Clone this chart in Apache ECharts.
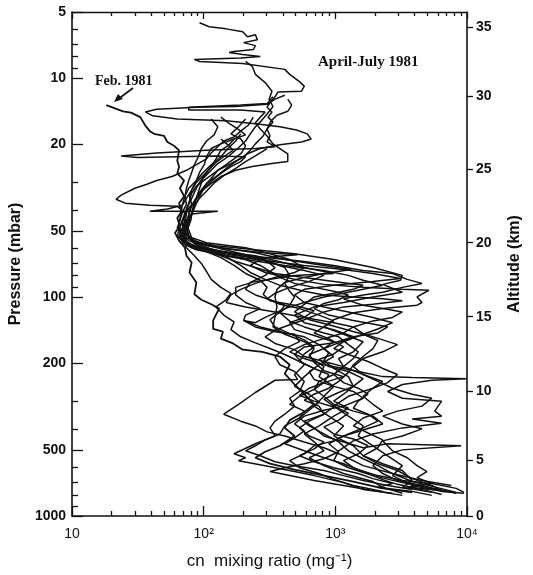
<!DOCTYPE html>
<html>
<head>
<meta charset="utf-8">
<title>CN mixing ratio profiles</title>
<script src="https://cdn.jsdelivr.net/npm/echarts@6/dist/echarts.min.js"></script>
<style>
  html, body { margin: 0; padding: 0; background: #fff; }
  #chart { width: 533px; height: 575px; }
</style>
</head>
<body>
<div id="chart"></div>
<script>
// axis ticks
const pressureLabels = [5, 10, 20, 50, 100, 200, 500, 1000];
const pressureMinor = [6, 7, 8, 9, 30, 40, 60, 70, 80, 90, 300, 400, 600, 700, 800, 900];
const cnMajor = [10, 100, 1000, 10000];
const cnMinor = [20, 30, 40, 50, 60, 70, 80, 90, 200, 300, 400, 500, 600, 700, 800, 900,
  2000, 3000, 4000, 5000, 6000, 7000, 8000, 9000];
const cnLabelText = ['10', '10²', '10³', '10⁴'];
const altitudeKm = [0, 5, 10, 15, 20, 25, 30, 35];
const altitudePressure = [1000, 555, 270, 123, 56.5, 26, 12.1, 5.85];

// profiles: [cn mixing ratio, pressure mbar]
const feb1981 = [[18.2,13.3],[24.4,14.2],[28,14.4],[33,15.1],[36,16.5],[39,17.5],[42,18],[50,18.4],[53,19.6],[59.5,20.4],[65,21.4],[63,23.9],[65,25.4],[63,27.3],[71,29.4],[66,31.9],[71,34.7],[65,37.3],[68,40.6],[63,43.6],[66,47.4],[60.5,51],[65,55.3],[72,59.6],[74,64.8],[81,69.6],[78,77.3],[88,85.8],[85,97.2],[96,103],[114,108],[131,113],[118,128],[118,140],[140,144],[135,155],[167,163],[198,174],[278,178],[379,187],[450,204],[413,224],[490,251],[581,278],[690,309],[581,335],[450,365],[413,396],[490,431],[379,478],[293,509],[247,542],[319,577],[490,614],[819,654],[1370,696],[2291,748],[3832,780]];

const flight01 = [[93,5.6],[110,5.84],[148,5.97],[198,6.16],[215,6.48],[247,6.35],[256,6.69],[201,6.9],[247,7.12],[238,7.42],[170,7.58],[156,7.66],[198,7.82],[269,7.98],[260,8.07],[191,8.1],[85,8.24],[93,8.41],[198,8.59],[413,9.14],[450,9.63],[534,10.4],[581,10.9],[553,11.5],[366,11.6],[348,12.2],[325,12.8],[303,13.6],[330,14.3],[308,15.1],[336,15.9],[303,17.1],[283,18.4],[247,20],[226,21.4],[201,22.9],[161,24.6],[128,26.4],[105,28.8],[88,31.2],[81,33.6],[77,37.3],[74,41.4],[72,45.9],[68,49.4],[74,53.7],[105,58.3],[175,60.9],[293,62.8],[516,64.1],[348,65.4],[269,67.5],[226,71.8],[293,77.3],[490,83.1],[819,87.6],[1626,90.4],[3228,92.3],[5130,93.2],[4175,100],[4549,106],[4175,109],[2291,113],[1370,118],[972,127],[819,137],[1154,148],[1626,160],[1370,178],[1059,191],[1154,208],[1626,226],[2291,243],[1930,261],[1257,284],[972,315],[1257,350],[1626,388],[1492,431],[1930,478],[2496,531],[3228,589],[2719,654],[3832,725],[6410,772],[9500,788]];

const flight02 = [[208,8.41],[234,8.86],[247,9.63],[293,10.5],[330,11.5],[314,12.5],[336,13.5],[303,14.6],[274,15.7],[247,16.7],[226,18],[208,19.4],[181,21],[153,22.9],[128,24.6],[114,26.4],[99,28.8],[93,31.9],[88,35.4],[84,39.3],[78,43.6],[74,47.4],[77,52.6],[88,56.5],[135,59.6],[247,62.8],[413,67.5],[819,71.8],[1324,75],[819,78.1],[581,81.4],[413,85.8],[360,92.3],[348,100],[360,111],[348,124],[336,137],[413,148],[581,160],[690,172],[633,187],[819,208],[752,231],[972,256],[819,284],[690,315],[892,350],[1154,388],[972,431],[1370,478],[1626,531],[2291,577],[3228,620],[3832,689],[3228,740],[5400,780]];

const flight03 = [[413,12.0],[348,12.5],[303,13.2],[175,13.5],[88,13.6],[44,13.9],[36,14.3],[41,14.9],[63,15.4],[148,15.7],[247,16.2],[379,16.7],[507,17.3],[612,18],[655,19],[553,19.6],[379,20.2],[269,21],[215,22.2],[175,24.1],[148,25.9],[124,28.2],[105,30.3],[96,33.6],[88,37.3],[82,41.4],[77,45.9],[72,51],[81,55.3],[124,58.3],[247,60.9],[490,63.5],[972,67.5],[1930,73.4],[3228,79.7],[3120,83.9],[2291,87.6],[3228,95.2],[1930,100],[1154,106],[690,111],[490,121],[581,131],[972,141],[1370,152],[972,162],[581,169],[490,183],[581,204],[490,226],[516,238],[348,240],[247,273],[184,309],[142,343],[191,369],[247,388],[303,413],[413,431],[581,459],[819,488],[1154,531],[1626,589],[2719,640],[4549,689],[7609,725]];

const flight04 = [[435,12.5],[466,13.3],[435,14.2],[360,14.8],[325,15.7],[303,17.1],[319,18.4],[303,19.6],[348,20.6],[247,21],[105,21.4],[44,22],[23.6,22.7],[31.5,23.1],[63,22.9],[124,22.7],[208,22.9],[191,24.1],[161,25.4],[135,27.3],[114,29.7],[101,31.9],[91,34.7],[81,38.1],[77,42.3],[74,46.4],[69,50.5],[72,55.3],[81,59.6],[114,62.8],[208,67.5],[413,71.8],[819,75.7],[1257,79.7],[1626,83.9],[2291,88.5],[1370,94.2],[819,100],[581,106],[413,113],[293,124],[247,131],[201,128],[269,137],[413,146],[581,152],[752,165],[892,180],[819,195],[972,212],[1257,231],[1370,256],[1154,278],[972,299],[1257,322],[972,350],[752,388],[581,422],[690,459],[819,504],[633,542],[819,589],[1154,640],[1930,696],[2291,740],[3228,788]];

const flight05 = [[336,12.2],[303,13.1],[191,13.3],[77,13.6],[77,14.0],[191,14.0],[293,14.3],[269,15.1],[247,16.0],[269,17.1],[303,18.4],[336,20],[379,21],[435,22.2],[435,24.1],[330,24.6],[234,25.4],[175,26.4],[135,28.2],[114,30.3],[96,32.9],[85,36.5],[82,40.1],[80,44.5],[76,48.4],[81,53.7],[105,56.5],[208,59.6],[319,63.5],[450,67.5],[581,73.4],[490,77.3],[348,81.4],[247,86.7],[191,92.3],[161,97.9],[148,106],[208,111],[348,117],[581,124],[972,131],[1370,137],[1154,146],[819,155],[581,165],[450,178],[581,191],[819,204],[1154,212],[1626,221],[2291,231],[3832,233],[9900,236],[5400,240],[3228,251],[2496,270],[3228,290],[6410,299],[5690,332],[6410,350],[3832,361],[6410,377],[3228,396],[1930,422],[1370,454],[1059,504],[972,559],[1257,602],[1930,654],[3228,704],[5400,748],[8290,788]];

const flight06 = [[135,15.1],[153,16.0],[181,17.1],[208,18.2],[170,19],[135,20],[114,21],[105,22.9],[101,24.9],[93,27],[88,29.4],[82,31.9],[78,34.7],[81,37.7],[74,41],[72,44.5],[69,48.4],[65,52.6],[72,56.5],[96,59.6],[161,62.8],[247,64.8],[348,68.2],[490,71.8],[690,75],[972,78.1],[490,79.7],[247,84.9],[175,90.4],[175,97.9],[208,106],[269,113],[208,121],[201,128],[247,137],[348,144],[490,148],[534,160],[413,172],[348,187],[379,204],[490,219],[581,243],[534,270],[450,290],[490,315],[413,343],[348,369],[319,396],[348,431],[247,468],[170,520],[208,542],[184,559],[293,589],[490,627],[690,654],[1154,704],[1626,756],[2719,788]];

const flight07 = [[238,15.1],[219,16.4],[191,17.5],[170,18.6],[142,19.4],[128,20.6],[114,22],[105,23.4],[88,24.9],[74,26.4],[57.5,28.2],[44,29.4],[37,30.6],[30,31.9],[23.6,34.3],[21.6,35.8],[25.3,37.3],[39,38.1],[63,38.5],[72,41.4],[68,45.4],[65,49.4],[63,52.6],[72,57.1],[96,60.9],[135,64.8],[175,68.9],[247,73.4],[348,78.1],[581,81.4],[972,84.9],[1626,88.5],[1370,92.3],[972,96.2],[690,100],[581,108],[490,117],[633,127],[892,134],[1257,142],[1626,148],[2103,158],[1930,172],[1626,187],[1370,204],[1257,221],[1059,243],[892,261],[690,278],[581,296],[752,315],[819,343],[581,369],[690,396],[819,431],[1154,459],[1626,488],[2496,468],[9030,478],[3228,499],[2291,531],[1930,589],[2291,640],[2963,689],[4549,725],[6984,772]];

const flight08 = [[170,19],[156,20.2],[135,21.4],[124,23.4],[114,25.4],[101,27.6],[88,30],[81,32.5],[74,35.4],[69,38.1],[53,39.7],[39,40.6],[74,40.6],[128,40.6],[81,41.8],[74,44.5],[71,48.4],[67,52.6],[69,57.1],[88,60.9],[148,64.8],[293,68.2],[581,71.8],[1154,75],[1930,78.1],[3120,82.3],[1930,84.9],[972,88.5],[581,92.3],[490,97.9],[581,106],[819,111],[1257,117],[1930,124],[2719,131],[2103,140],[1626,148],[1154,160],[972,172],[1257,183],[1771,197],[2291,212],[2963,226],[2496,246],[1930,261],[1626,284],[1930,309],[2291,332],[1626,357],[1370,388],[1771,418],[2291,449],[2103,488],[1626,531],[2103,577],[2963,620],[3832,675],[5400,725],[6410,764]];

const flight09 = [[303,21],[247,22.7],[208,24.1],[175,25.9],[142,27.9],[119,30.3],[105,32.9],[93,35.4],[85,38.5],[81,41.8],[77,45.4],[74,49.4],[78,53.7],[85,57.1],[105,60.9],[148,64.8],[208,67.5],[269,71.8],[319,76.5],[379,81.4],[490,86.7],[690,90.4],[972,94.2],[1257,97.9],[1059,103],[819,107],[690,113],[892,121],[1370,128],[1930,133],[2496,137],[2103,146],[1370,152],[1059,162],[819,172],[972,187],[752,204],[633,219],[690,238],[972,256],[1370,270],[1626,290],[1154,315],[819,329],[581,350],[490,380],[581,409],[490,440],[413,468],[581,504],[819,542],[1154,577],[1492,614],[2103,654],[3228,689],[5400,710],[3517,740],[7609,772]];

const flight10 = [[191,18],[175,19.4],[153,21],[135,22.9],[114,24.9],[99,27],[88,29.4],[77,31.9],[72,34.7],[74,37.7],[69,41],[66,44.5],[63,48.4],[68,52.1],[77,55.3],[101,59],[135,62.8],[161,67.5],[191,71.8],[226,77.3],[293,83.1],[379,88.5],[581,94.2],[819,97.9],[1370,100],[2291,102],[3228,104],[1930,108],[1154,111],[819,117],[581,127],[450,134],[348,142],[293,152],[348,163],[490,174],[581,187],[819,197],[1154,208],[972,226],[752,243],[690,264],[819,284],[972,309],[1370,332],[1930,350],[2291,380],[1626,405],[1154,431],[892,468],[1059,509],[819,548],[581,577],[413,602],[319,627],[450,654],[690,689],[1154,725],[1930,764],[3228,805]];

const flight11 = [[114,15.4],[128,16.7],[120,18.2],[105,19.4],[96,21],[91,22.9],[85,24.9],[81,27],[77,29.4],[74,31.9],[72,34.7],[69,37.7],[67,41.8],[65,46.4],[67,50.5],[71,54.8],[81,58.3],[114,61.5],[175,64.8],[303,66.1],[581,68.9],[972,71.8],[1626,75.7],[2719,78.1],[3517,83.1],[4549,86.7],[3228,90.4],[2291,95.2],[1626,97.9],[1154,102],[1626,109],[2291,113],[3228,117],[2719,124],[1930,128.6],[1370,137],[1626,147],[2291,157],[2963,165],[2291,178],[1626,191],[1370,208],[1626,226],[2103,243],[2719,261],[3832,278],[5400,290],[4549,315],[2963,332],[2291,350],[3228,380],[4549,400],[3228,431],[2291,454],[2719,504],[3517,542],[4175,589],[4956,627],[4175,668],[5400,710],[8290,748],[9500,780]];

const flight12 = [[135,19],[153,20.2],[167,21.4],[142,22.9],[124,24.3],[112,25.9],[101,27.9],[91,30.6],[85,33.3],[80,36.1],[74,39.3],[72,42.7],[68,46.4],[72,49.9],[78,53.7],[96,57.1],[135,60.2],[208,64.1],[293,67.5],[348,73.4],[293,79.7],[226,85.8],[208,92.3],[247,97.9],[319,103],[413,109],[379,117],[319,127],[348,137],[450,147],[581,157],[690,169],[581,182],[534,197],[690,212],[892,226],[819,246],[690,264],[534,284],[450,309],[581,332],[534,357],[413,388],[379,422],[293,449],[247,478],[208,504],[269,531],[348,565],[490,589],[819,620],[1154,654],[1626,689],[2496,725],[3832,756]];

const flight13 = [[208,15.4],[184,16.7],[161,18],[191,19],[208,20.4],[194,22],[170,23.4],[148,24.9],[128,26.4],[114,28.8],[101,31.2],[91,33.9],[84,36.9],[78,40.1],[76,43.6],[73,47.4],[71,51.5],[74,55.9],[91,59.6],[135,62.2],[226,64.8],[319,68.9],[413,73.4],[450,79.7],[413,86.7],[450,94.2],[490,100],[450,109],[379,118],[450,129],[581,137],[819,146],[1059,152],[1257,165],[1492,178],[1370,191],[1154,208],[972,226],[1154,246],[1492,261],[1771,278],[1492,299],[1370,322],[1771,343],[2103,369],[1626,396],[1257,422],[972,454],[690,478],[581,520],[450,559],[534,602],[752,640],[972,682],[1370,725],[2291,772]];

const flight14 = [[69,45.9],[72,51],[81,55.3],[105,59.6],[161,63.5],[269,67.5],[379,71.8],[581,75.7],[819,79.7],[633,84.9],[450,90.4],[348,96.2],[303,102],[379,108],[534,113],[752,121],[972,128.6],[819,137],[690,146],[892,155],[1154,169],[972,182],[752,193],[892,208],[1257,219],[1626,236],[1370,256],[1059,273],[819,293],[972,315],[1257,339],[1059,365],[819,392],[972,422],[1370,445],[1771,478],[1492,520],[1154,559],[1370,602],[1771,640],[2291,682],[2963,717],[4549,756],[6410,797]];

const flight15 = [[65,48.4],[68,53.7],[77,57.7],[101,61.5],[135,66.1],[170,71.8],[208,78.1],[269,83.9],[303,90.4],[283,97.2],[319,104],[490,109],[690,115.5],[581,124],[450,131],[490,141],[690,150],[972,160],[819,172],[633,183],[690,199],[819,217],[1154,231],[819,246],[633,261],[534,281],[690,299],[972,318],[819,343],[633,369],[534,396],[633,431],[819,459],[690,494],[534,531],[690,565],[972,602],[1492,640],[1930,675],[2719,710],[2103,740],[3832,772],[5400,805]];

const flight16 = [[68,53.7],[74,59.6],[85,64.8],[96,70.3],[105,76.5],[114,83.1],[135,90.4],[161,96.2],[148,103],[124,111],[142,121],[170,130],[161,141],[191,152],[247,162],[319,172],[413,183],[534,197],[690,212],[581,231],[490,256],[633,278],[752,302],[633,329],[534,357],[633,388],[819,422],[1059,459],[1257,504],[1626,548],[2103,589],[2719,640],[3832,696],[5883,740],[8290,780]];

const profiles = [feb1981, flight01, flight02, flight03, flight04, flight05, flight06, flight07,
  flight08, flight09, flight10, flight11, flight12, flight13, flight14, flight15, flight16];

const ink = '#111';
const chart = echarts.init(document.getElementById('chart'), null, { renderer: 'canvas' });

function cnAxis(position, values, len, extra) {
  return Object.assign({
    type: 'log', logBase: 10, min: 10, max: 10000, position: position, gridIndex: 0,
    axisLine: { show: false },
    axisTick: { show: true, inside: true, length: len, customValues: values,
      lineStyle: { color: ink, width: 1.3 } },
    axisLabel: { show: false },
    splitLine: { show: false }
  }, extra || {});
}

function pressureAxis(position, values, len, extra) {
  return Object.assign({
    type: 'log', logBase: 10, min: 5, max: 1000, inverse: true, position: position, gridIndex: 0,
    axisLine: { show: false },
    axisTick: { show: true, inside: true, length: len, customValues: values,
      lineStyle: { color: ink, width: 1.3 } },
    axisLabel: { show: false },
    splitLine: { show: false }
  }, extra || {});
}

const option = {
  backgroundColor: '#fff',
  animation: false,
  grid: { left: 63, right: 66, top: 12, bottom: 54 },
  xAxis: [
    cnAxis('bottom', cnMajor, 10, {
      axisLine: { show: true, onZero: false, lineStyle: { color: ink, width: 1.6 } },
      axisLabel: {
        show: true, customValues: cnMajor, margin: 11, color: ink,
        fontFamily: 'Liberation Sans', fontSize: 14,
        formatter: function (v) { return cnLabelText[cnMajor.indexOf(Math.round(v))] || ''; }
      },
      name: 'cn  mixing ratio (mg⁻¹)', nameLocation: 'middle', nameGap: 37,
      nameTextStyle: { color: ink, fontFamily: 'Liberation Sans', fontSize: 17 }
    }),
    cnAxis('bottom', cnMinor, 5),
    cnAxis('top', cnMajor, 7, {
      axisLine: { show: true, onZero: false, lineStyle: { color: ink, width: 1.4 } }
    }),
    cnAxis('top', cnMinor, 4)
  ],
  yAxis: [
    pressureAxis('left', pressureLabels, 11, {
      axisLine: { show: true, onZero: false, lineStyle: { color: ink, width: 1.6 } },
      axisLabel: {
        show: true, customValues: pressureLabels, margin: 6, color: ink,
        fontFamily: 'Liberation Sans', fontWeight: 'bold', fontSize: 14,
        formatter: function (v) { return String(Math.round(v)); }
      },
      name: 'Pressure (mbar)', nameLocation: 'middle', nameGap: 35,
      nameTextStyle: { color: ink, fontFamily: 'Liberation Sans', fontWeight: 'bold', fontSize: 16 }
    }),
    pressureAxis('left', pressureMinor, 6),
    pressureAxis('right', altitudePressure, 6, {
      axisLine: { show: true, onZero: false, lineStyle: { color: ink, width: 1.6 } },
      axisTick: { show: true, inside: false, length: 6, customValues: altitudePressure,
        lineStyle: { color: ink, width: 1.3 } },
      axisLabel: {
        show: true, customValues: altitudePressure, margin: 9, color: ink,
        fontFamily: 'Liberation Sans', fontWeight: 'bold', fontSize: 14,
        formatter: function (v) {
          let best = 0;
          altitudePressure.forEach(function (p, i) {
            if (Math.abs(Math.log(p / v)) < Math.abs(Math.log(altitudePressure[best] / v))) best = i;
          });
          return String(altitudeKm[best]);
        }
      },
      name: 'Altitude (km)', nameLocation: 'middle', nameGap: 40,
      nameTextStyle: { color: ink, fontFamily: 'Liberation Sans', fontWeight: 'bold', fontSize: 16 }
    })
  ],
  graphic: [
    { type: 'text', left: 318, top: 55,
      style: { text: 'April-July 1981', fill: ink, font: 'bold 15px "Liberation Serif"' } },
    { type: 'text', left: 95, top: 74,
      style: { text: 'Feb. 1981', fill: ink, font: 'bold 14px "Liberation Serif"' } },
    { type: 'line', shape: { x1: 133, y1: 88, x2: 117, y2: 100 },
      style: { stroke: ink, lineWidth: 1.6 } },
    { type: 'polygon', shape: { points: [[114, 102], [118, 94], [123, 99]] },
      style: { fill: ink } }
  ],
  series: profiles.map(function (d, i) {
    return {
      name: i === 0 ? 'Feb. 1981' : 'April-July 1981 #' + i,
      type: 'line', data: d, xAxisIndex: 0, yAxisIndex: 0,
      showSymbol: false, silent: true, clip: true,
      lineStyle: { color: ink, width: i === 0 ? 1.8 : 1.5 }
    };
  })
};

chart.setOption(option);
</script>
</body>
</html>
